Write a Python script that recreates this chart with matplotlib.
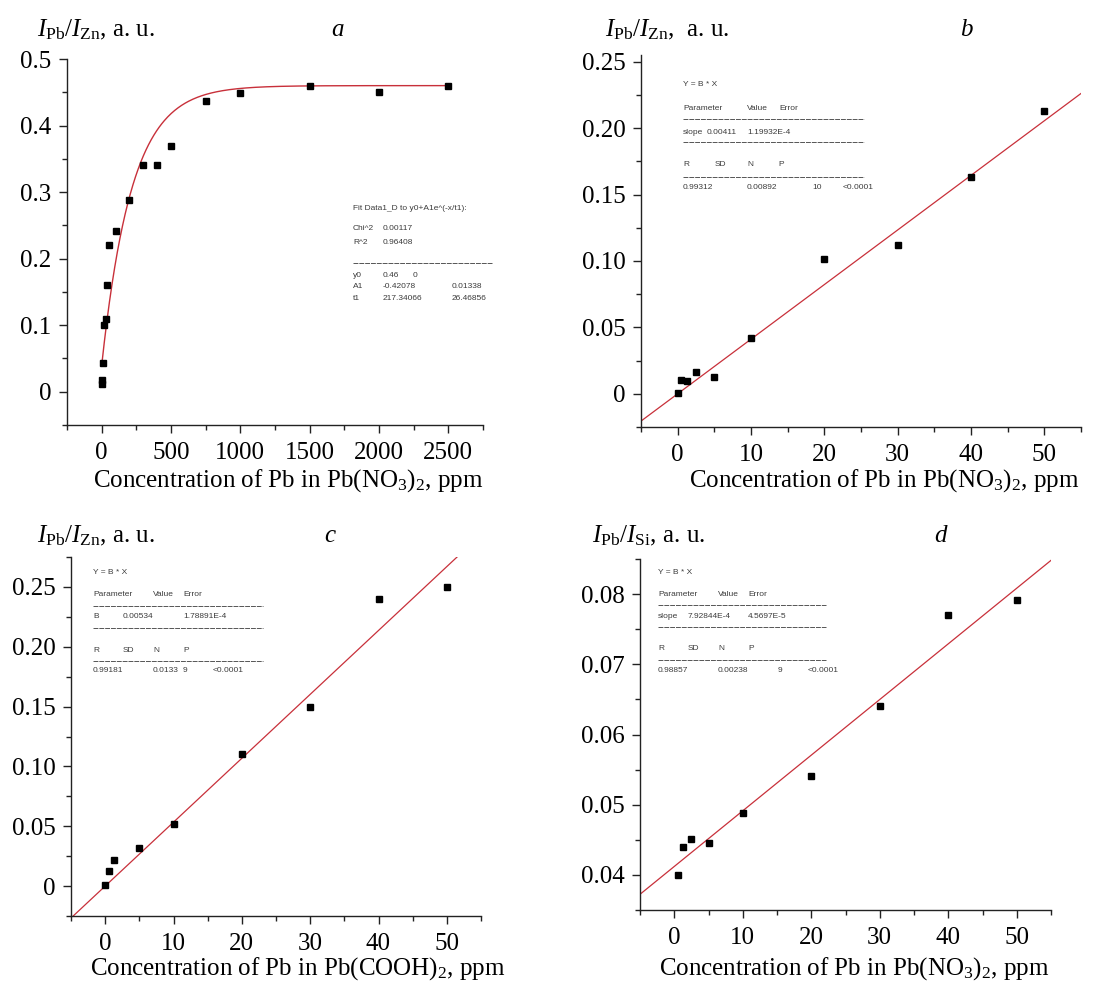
"""Four calibration panels: Pb line intensity ratio against Pb concentration (a-d)."""

import matplotlib

matplotlib.use("Agg")
import matplotlib.pyplot as plt
import numpy as np
from matplotlib.lines import Line2D
from matplotlib.ticker import AutoMinorLocator, FixedLocator

W, H = 1109, 982

plt.rcParams["font.family"] = ["Liberation Serif", "DejaVu Serif"]
plt.rcParams["mathtext.fontset"] = "custom"
plt.rcParams["mathtext.rm"] = "Liberation Serif"
plt.rcParams["mathtext.it"] = "Liberation Serif:italic"

# --- panel a: exponential saturation, Pb(NO3)2 up to 2500 ppm
a_conc = [0, 0, 10, 20, 30, 40, 50, 100, 200, 300, 400, 500, 750, 1000, 1500, 2000, 2500]
a_ratio = [0.012, 0.017, 0.043, 0.100, 0.109, 0.160, 0.221, 0.242, 0.288, 0.340,
           0.340, 0.370, 0.437, 0.449, 0.460, 0.451, 0.460]
a_y0, a_A1, a_t1 = 0.46, -0.42078, 217.34066
a_xticks = [0, 500, 1000, 1500, 2000, 2500]
a_yticks = [0, 0.1, 0.2, 0.3, 0.4, 0.5]
a_ylabels = ["0", "0.1", "0.2", "0.3", "0.4", "0.5"]

# --- panel b: linear, Pb(NO3)2 up to 50 ppm
b_conc = [0, 0.5, 1.25, 2.5, 5, 10, 20, 30, 40, 50]
b_ratio = [0.0005, 0.0103, 0.0095, 0.0163, 0.0125, 0.042, 0.1015, 0.1117, 0.1628, 0.2132]
b_slope = 0.00411
b_yticks = [0, 0.05, 0.10, 0.15, 0.20, 0.25]
b_ylabels = ["0", "0.05", "0.10", "0.15", "0.20", "0.25"]

# --- panel c: linear, Pb(COOH)2
c_conc = [0, 0.5, 1.25, 5, 10, 20, 30, 40, 50]
c_ratio = [0.0008, 0.0128, 0.0218, 0.0318, 0.0519, 0.1105, 0.150, 0.2402, 0.2503]
c_slope = 0.00534
c_yticks = [0, 0.05, 0.10, 0.15, 0.20, 0.25]
c_ylabels = ["0", "0.05", "0.10", "0.15", "0.20", "0.25"]

# --- panel d: linear, Pb/Si ratio
d_conc = [0.5, 1.25, 2.5, 5, 10, 20, 30, 40, 50]
d_ratio = [0.0400, 0.0440, 0.0451, 0.0445, 0.04885, 0.0541, 0.0641, 0.0770, 0.0791]
d_slope, d_intercept = 7.92844e-4, 0.0412
d_yticks = [0.04, 0.05, 0.06, 0.07, 0.08]
d_ylabels = ["0.04", "0.05", "0.06", "0.07", "0.08"]

lin_xticks = [0, 10, 20, 30, 40, 50]

# --- fit report texts (Origin-style insets)
a_report = [["Fit Data1_D to y0+A1e^(-x/t1):"], ["Chi^2", "0.00117"], ["R^2", "0.96408"],
            ["y0", "0.46", "0"], ["A1", "-0.42078", "0.01338"], ["t1", "217.34066", "26.46856"]]
b_report = [["Y = B * X"], ["Parameter", "Value", "Error"], ["slope", "0.00411", "1.19932E-4"],
            ["R", "SD", "N", "P"], ["0.99312", "0.00892", "10", "<0.0001"]]
c_report = [["Y = B * X"], ["Parameter", "Value", "Error"], ["B", "0.00534", "1.78891E-4"],
            ["R", "SD", "N", "P"], ["0.99181", "0.0133", "9", "<0.0001"]]
d_report = [["Y = B * X"], ["Parameter", "Value", "Error"], ["slope", "7.92844E-4", "4.5697E-5"],
            ["R", "SD", "N", "P"], ["0.98857", "0.00238", "9", "<0.0001"]]

LINE_RED = "#c8303a"
SPINE = "#222222"
REPORT_GREY = "#3c3c3c"

fig = plt.figure(figsize=(W / 100, H / 100), dpi=100)


def fxy(x, y):
    """Figure pixel (from top-left) to figure fraction."""
    return x / W, 1 - y / H


def make_axes(left, top, right, bottom):
    ax = fig.add_axes([left / W, 1 - bottom / H, (right - left) / W, (bottom - top) / H])
    for side in ("top", "right"):
        ax.spines[side].set_visible(False)
    for side in ("left", "bottom"):
        ax.spines[side].set_color(SPINE)
        ax.spines[side].set_linewidth(1.0)
    ax.tick_params(which="major", direction="out", length=6, width=1.0, color=SPINE,
                   labelsize=18, pad=5)
    ax.tick_params(axis="x", which="major", pad=6)
    ax.tick_params(which="minor", direction="out", length=3.5, width=1.0, color=SPINE)
    return ax


def set_ticks(ax, xticks, yticks, ylabels):
    ax.xaxis.set_major_locator(FixedLocator(xticks))
    ax.set_xticklabels([str(t) for t in xticks])
    ax.yaxis.set_major_locator(FixedLocator(yticks))
    ax.set_yticklabels(ylabels)
    ax.xaxis.set_minor_locator(AutoMinorLocator(2))
    ax.yaxis.set_minor_locator(AutoMinorLocator(2))


def scatter(ax, x, y):
    ax.plot(x, y, ls="none", marker="s", ms=5, color="black", zorder=3, clip_on=False)


def report(x0, y0, lines, row_dy, col_dx, rules, width):
    for line, dy, cols in zip(lines, row_dy, col_dx):
        for s, dx in zip(line, cols):
            fig.text(*fxy(x0 + dx, y0 + dy), s, fontsize=6, family="Liberation Sans",
                     color=REPORT_GREY, ha="left", va="center")
    for dy in rules:
        fx0, fy = fxy(x0, y0 + dy)
        fx1, _ = fxy(x0 + width, y0 + dy)
        fig.add_artist(Line2D([fx0, fx1], [fy, fy], transform=fig.transFigure, color="#555555",
                              lw=0.7, dashes=(5, 1)))


def labels(ylab_x, ylab_y, ylab, letter_x, letter, xlab_x, xlab_y, xlab):
    fig.text(*fxy(ylab_x, ylab_y), ylab, fontsize=18, ha="left", va="center")
    fig.text(*fxy(letter_x, ylab_y), letter, fontsize=18, style="italic", ha="center", va="center")
    fig.text(*fxy(xlab_x, xlab_y), xlab, fontsize=18, ha="center", va="center")


ratio_zn = r"$I_{\mathrm{Pb}}/I_{\mathrm{Zn}}$, a. u."
ratio_zn_b = r"$I_{\mathrm{Pb}}/I_{\mathrm{Zn}}$,  a. u."
ratio_si = r"$I_{\mathrm{Pb}}/I_{\mathrm{Si}}$, a. u."
xlab_nitrate = r"Concentration of Pb in Pb(NO$_3$)$_2$, ppm"
xlab_formate = r"Concentration of Pb in Pb(COOH)$_2$, ppm"

# ---- a
ax = make_axes(67, 59, 483, 425)
xs = np.linspace(0, max(a_conc), 400)
ax.plot(xs, a_y0 + a_A1 * np.exp(-xs / a_t1), color=LINE_RED, lw=1.0)
scatter(ax, a_conc, a_ratio)
ax.set_xlim(-250, 2750)
ax.set_ylim(-0.05, 0.5)
set_ticks(ax, a_xticks, a_yticks, a_ylabels)
labels(37, 30, ratio_zn, 337, "a", 288, 481, xlab_nitrate)
report(353, 208, a_report, [0, 21, 34, 67, 79, 90],
       [[0], [0, 30], [0, 30], [0, 30, 60], [0, 30, 99], [0, 30, 99]], [55], 139)

# ---- b
ax = make_axes(641, 55, 1081, 427)
xl = np.array([-5, 55])
ax.plot(xl, b_slope * xl, color=LINE_RED, lw=0.9)
scatter(ax, b_conc, b_ratio)
ax.set_xlim(-5, 55)
ax.set_ylim(-0.025, 0.255)
set_ticks(ax, lin_xticks, b_yticks, b_ylabels)
labels(605, 30, ratio_zn_b, 966, "b", 884, 481, xlab_nitrate)
report(683, 85, b_report, [0, 23, 47, 80, 103],
       [[0], [0, 64, 96], [0, 24, 64], [0, 32, 64, 95], [0, 64, 129, 160]], [34, 57, 92], 181)

# ---- c
ax = make_axes(71, 557, 481, 916)
ax.plot(xl, c_slope * xl, color=LINE_RED, lw=0.9)
scatter(ax, c_conc, c_ratio)
ax.set_xlim(-5, 55)
ax.set_ylim(-0.025, 0.275)
set_ticks(ax, lin_xticks, c_yticks, c_ylabels)
labels(37, 536, ratio_zn, 330, "c", 298, 969, xlab_formate)
report(93, 572, c_report, [0, 22, 44, 78, 99],
       [[0], [0, 60, 90], [0, 30, 90], [0, 30, 60, 90], [0, 60, 90, 120]], [34, 56, 89], 170)

# ---- d
ax = make_axes(640, 559, 1051, 910)
ax.plot(xl, d_intercept + d_slope * xl, color=LINE_RED, lw=0.9)
scatter(ax, d_conc, d_ratio)
ax.set_xlim(-5, 55)
ax.set_ylim(0.035, 0.085)
set_ticks(ax, lin_xticks, d_yticks, d_ylabels)
labels(592, 536, ratio_si, 940, "d", 854, 969, xlab_nitrate)
report(658, 573, d_report, [0, 21, 43, 76, 97],
       [[0], [0, 60, 90], [0, 30, 90], [0, 30, 60, 90], [0, 60, 120, 150]], [32, 54, 87], 168)

fig.savefig("out.png", dpi=100)
